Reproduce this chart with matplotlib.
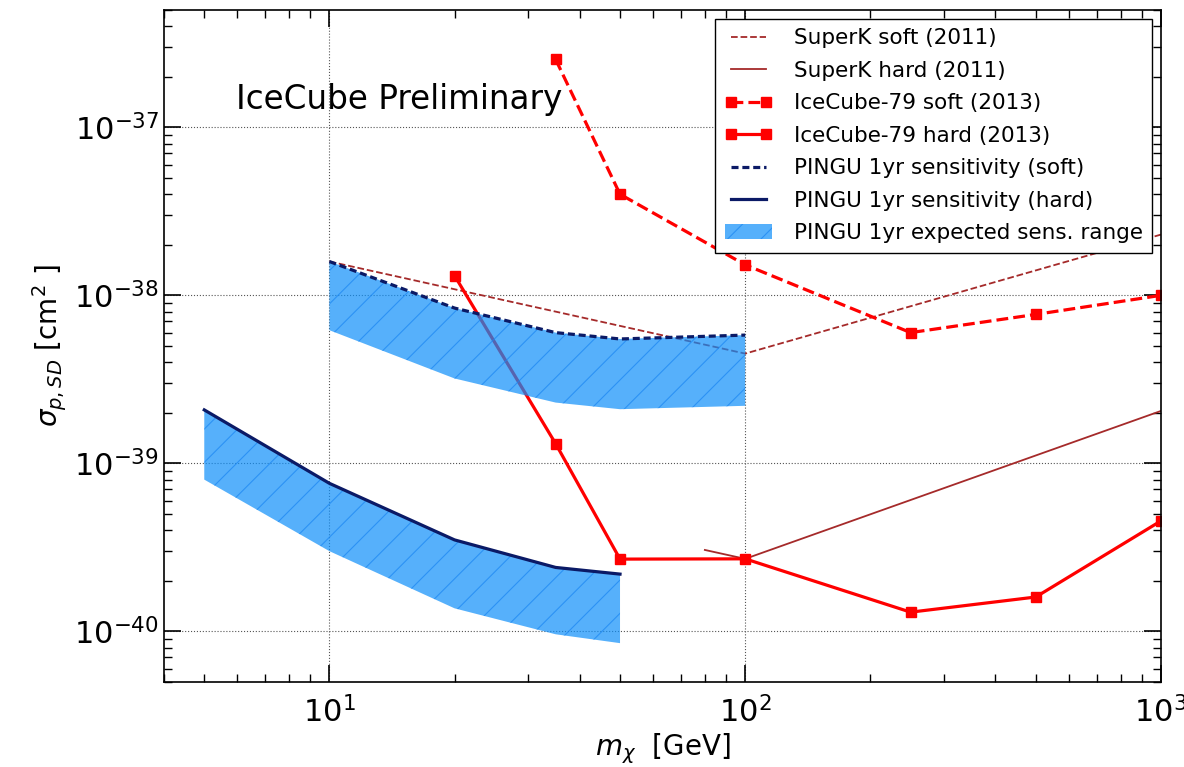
import matplotlib
matplotlib.use('Agg')
import matplotlib.pyplot as plt
import numpy as np

# SuperK 2011
sk_soft_m = [10, 100, 1000]
sk_soft_s = [1.59e-38, 4.5e-39, 2.3e-38]
sk_hard_m = [80, 100, 1000]
sk_hard_s = [3.05e-40, 2.7e-40, 2.05e-39]

# IceCube-79 2013
ic_m = [20, 35, 50, 100, 250, 500, 1000]
ic_soft_m = [35, 50, 100, 250, 500, 1000]
ic_soft_s = [2.54e-37, 4.0e-38, 1.52e-38, 6.0e-39, 7.7e-39, 1.0e-38]
ic_hard_s = [1.31e-38, 1.31e-39, 2.69e-40, 2.7e-40, 1.3e-40, 1.6e-40, 4.54e-40]

# PINGU 1yr
pg_soft_m = [10, 20, 35, 50, 100]
pg_soft_s = [1.59e-38, 8.4e-39, 6.0e-39, 5.5e-39, 5.8e-39]
pg_soft_lo = [6.2e-39, 3.2e-39, 2.3e-39, 2.1e-39, 2.2e-39]
pg_hard_m = [5, 10, 20, 35, 50]
pg_hard_s = [2.08e-39, 7.6e-40, 3.5e-40, 2.4e-40, 2.19e-40]
pg_hard_lo = [8.0e-40, 3.0e-40, 1.37e-40, 9.6e-41, 8.5e-41]

brown = '#a52a2a'
navy = '#0b1a66'
band = '#0e8ffa'
hatchc = '#1a86f2'

plt.rcParams['hatch.linewidth'] = 0.8

fig = plt.figure(figsize=(11.84, 7.67), dpi=100)
ax = fig.add_axes([0.1385, 0.111, 0.842, 0.876])

ax.plot(sk_soft_m, sk_soft_s, '--', color=brown, lw=1.3, label='SuperK soft (2011)', zorder=2)
ax.plot(sk_hard_m, sk_hard_s, '-', color=brown, lw=1.3, label='SuperK hard (2011)', zorder=2)
ax.plot(ic_soft_m, ic_soft_s, '--', color='red', lw=2.3, marker='s', ms=7, mec='red',
        label='IceCube-79 soft (2013)', zorder=2)
ax.plot(ic_m, ic_hard_s, '-', color='red', lw=2.3, marker='s', ms=7, mec='red',
        label='IceCube-79 hard (2013)', zorder=2)

ax.fill_between(pg_soft_m, pg_soft_lo, pg_soft_s, facecolor=band, edgecolor=hatchc,
                hatch='/', linewidth=0, alpha=0.7, zorder=3)
ax.fill_between(pg_hard_m, pg_hard_lo, pg_hard_s, facecolor=band, edgecolor=hatchc,
                hatch='/', linewidth=0, alpha=0.7, zorder=3,
                label='PINGU 1yr expected sens. range')

ax.plot(pg_soft_m, pg_soft_s, '--', color=navy, lw=2.3, dashes=(2.2, 1.2),
        label='PINGU 1yr sensitivity (soft)', zorder=4)
ax.plot(pg_hard_m, pg_hard_s, '-', color=navy, lw=2.3,
        label='PINGU 1yr sensitivity (hard)', zorder=4)

ax.set_xscale('log')
ax.set_yscale('log')
ax.set_xlim(4, 1000)
ax.set_ylim(5e-41, 5e-37)

ax.grid(True, which='major', linestyle=':', color='#555555', lw=0.8)
ax.tick_params(which='both', direction='in', top=True, right=True, labelsize=22)
ax.tick_params(which='major', length=12, width=1.2)
ax.tick_params(which='minor', length=6, width=1)
ax.tick_params(axis='x', pad=10)
for sp in ax.spines.values():
    sp.set_linewidth(1.2)

ax.set_xlabel(r'$m_\chi$  [GeV]', fontsize=20, labelpad=2)
ax.set_ylabel(r'$\sigma_{p,SD}$ [cm$^2$ ]', fontsize=20, labelpad=4)

fig.text(236 / 1184, 1 - 109 / 767, 'IceCube Preliminary', fontsize=23.5, va='baseline')

handles, labels = ax.get_legend_handles_labels()
order = ['SuperK soft (2011)', 'SuperK hard (2011)', 'IceCube-79 soft (2013)',
         'IceCube-79 hard (2013)', 'PINGU 1yr sensitivity (soft)',
         'PINGU 1yr sensitivity (hard)', 'PINGU 1yr expected sens. range']
hd = dict(zip(labels, handles))
leg = ax.legend([hd[k] for k in order], order, loc='upper right', fontsize=15.5,
                numpoints=2, fancybox=False, framealpha=1, edgecolor='black',
                borderaxespad=0.4, handlelength=2.2, labelspacing=0.58,
                handletextpad=1.0, borderpad=0.45)
leg.get_frame().set_linewidth(1.0)
leg.set_zorder(10)

fig.savefig('out.png', dpi=100)
